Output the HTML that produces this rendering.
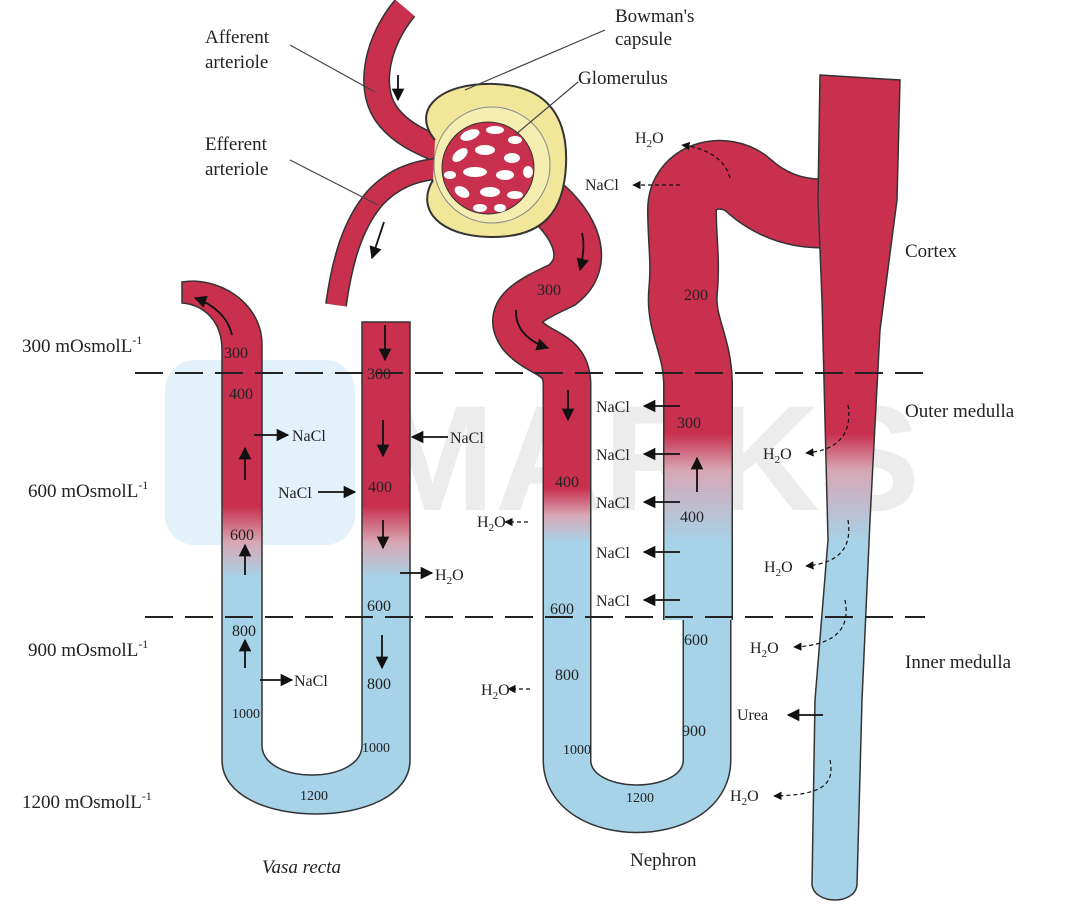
<!DOCTYPE html>
<html><head><meta charset="utf-8"><style>
html,body{margin:0;padding:0;background:#fff}
svg{display:block}
text{font-family:"Liberation Serif",serif;fill:#222}
</style></head><body>
<svg width="1088" height="904" viewBox="0 0 1088 904" xmlns="http://www.w3.org/2000/svg">
<defs>
<linearGradient id="g" gradientUnits="userSpaceOnUse" x1="0" y1="0" x2="0" y2="904">
<stop offset="0" stop-color="#c8304d"/>
<stop offset="0.56" stop-color="#c8304d"/>
<stop offset="0.6" stop-color="#d8a7b5"/>
<stop offset="0.64" stop-color="#a6d3e8"/>
<stop offset="1" stop-color="#a6d3e8"/>
</linearGradient>
<linearGradient id="g2" gradientUnits="userSpaceOnUse" x1="0" y1="0" x2="0" y2="904">
<stop offset="0" stop-color="#c8304d"/>
<stop offset="0.54" stop-color="#c8304d"/>
<stop offset="0.57" stop-color="#d8a7b5"/>
<stop offset="0.6" stop-color="#a6d3e8"/>
<stop offset="1" stop-color="#a6d3e8"/>
</linearGradient>
<linearGradient id="g3" gradientUnits="userSpaceOnUse" x1="0" y1="0" x2="0" y2="904">
<stop offset="0" stop-color="#c8304d"/>
<stop offset="0.48" stop-color="#c8304d"/>
<stop offset="0.52" stop-color="#d8a7b5"/>
<stop offset="0.6" stop-color="#a6d3e8"/>
<stop offset="1" stop-color="#a6d3e8"/>
</linearGradient>
<marker id="a" viewBox="0 0 10 10" refX="9" refY="5" markerWidth="7" markerHeight="7" orient="auto"><path d="M0,0 L10,5 L0,10 Z" fill="#111"/></marker>
</defs>

<!-- watermark -->
<rect x="165" y="360" width="190" height="185" rx="30" fill="#e3f1fb"/>
<text x="370" y="510" style="font-family:'Liberation Sans',sans-serif;font-size:150px;font-weight:bold;fill:#ececec">MARKS</text>

<!-- vasa recta -->
<path d="M182,282 C215,276 262,300 262,345 L262,745 C262,785 362,785 362,745 L362,322 L410,322 L410,760 C410,832 222,832 222,760 L222,350 C222,322 205,305 182,303 Z" fill="url(#g)" stroke="#333" stroke-width="1.5"/>

<!-- afferent / efferent -->
<path d="M405,8 C378,40 368,85 385,112 C398,132 420,142 445,152" fill="none" stroke="#333" stroke-width="27"/>
<path d="M405,8 C378,40 368,85 385,112 C398,132 420,142 445,152" fill="none" stroke="#c8304d" stroke-width="24"/>
<path d="M445,168 C410,170 390,182 375,198 C352,225 342,262 336,305" fill="none" stroke="#333" stroke-width="22"/>
<path d="M445,168 C410,170 390,182 375,198 C352,225 342,262 336,305" fill="none" stroke="#c8304d" stroke-width="19"/>

<!-- nephron tubes -->
<path d="M545,200 C575,225 592,262 562,285 C530,300 505,312 522,335 C540,356 567,352 567,385 L567,760 C567,825 707,825 707,760 L707,600" fill="none" stroke="#333" stroke-width="49"/>
<path d="M545,200 C575,225 592,262 562,285 C530,300 505,312 522,335 C540,356 567,352 567,385 L567,760 C567,825 707,825 707,760 L707,600" fill="none" stroke="url(#g2)" stroke-width="46"/>
<path d="M698,620 L698,385 C698,345 680,325 683,292 C686,262 682,240 682,210 C682,175 725,165 748,185 C770,205 800,218 840,212" fill="none" stroke="#333" stroke-width="70"/>
<path d="M698,620 L698,385 C698,345 680,325 683,292 C686,262 682,240 682,210 C682,175 725,165 748,185 C770,205 800,218 840,212" fill="none" stroke="url(#g3)" stroke-width="67"/>
<!-- collecting duct -->
<path d="M820,75 L900,80 L897,200 L880,330 L870,520 L862,700 L857,885 C855,905 815,905 812,885 L815,700 L828,540 L822,300 L818,200 Z" fill="url(#g3)" stroke="#333" stroke-width="1.5"/>

<!-- capsule -->
<path d="M435,140 C410,110 440,82 495,84 C550,86 568,120 566,165 C564,210 545,238 490,237 C440,236 415,210 433,180" fill="#f1e69a" stroke="#333" stroke-width="2"/>
<ellipse cx="492" cy="165" rx="58" ry="58" fill="#f5eeb0" stroke="#888" stroke-width="1"/>
<circle cx="488" cy="168" r="46" fill="#c8304d" stroke="#333" stroke-width="1"/>
<g fill="#fff">
<ellipse cx="470" cy="135" rx="10" ry="5" transform="rotate(-20 470 135)"/>
<ellipse cx="495" cy="130" rx="9" ry="4"/>
<ellipse cx="515" cy="140" rx="7" ry="4"/>
<ellipse cx="460" cy="155" rx="9" ry="5" transform="rotate(-40 460 155)"/>
<ellipse cx="485" cy="150" rx="10" ry="5"/>
<ellipse cx="512" cy="158" rx="8" ry="5"/>
<ellipse cx="450" cy="175" rx="6" ry="4"/>
<ellipse cx="475" cy="172" rx="12" ry="5"/>
<ellipse cx="505" cy="175" rx="9" ry="5"/>
<ellipse cx="528" cy="172" rx="5" ry="6"/>
<ellipse cx="462" cy="192" rx="8" ry="5" transform="rotate(30 462 192)"/>
<ellipse cx="490" cy="192" rx="10" ry="5"/>
<ellipse cx="515" cy="195" rx="8" ry="4"/>
<ellipse cx="480" cy="208" rx="7" ry="4"/>
<ellipse cx="500" cy="208" rx="6" ry="4"/>
</g>

<!-- dashed lines -->
<line x1="135" y1="373" x2="930" y2="373" stroke="#222" stroke-width="2" stroke-dasharray="28,12"/>
<line x1="145" y1="617" x2="925" y2="617" stroke="#222" stroke-width="2" stroke-dasharray="28,12"/>

<!-- leader lines -->
<g stroke="#444" stroke-width="1.2" fill="none">
<line x1="290" y1="45" x2="375" y2="92"/>
<line x1="290" y1="160" x2="378" y2="205"/>
<line x1="605" y1="30" x2="465" y2="90"/>
<line x1="578" y1="82" x2="515" y2="135"/>
</g>

<!-- internal arrows -->
<g stroke="#111" stroke-width="1.8" fill="none" marker-end="url(#a)">
<line x1="398" y1="75" x2="398" y2="100"/>
<line x1="384" y1="222" x2="372" y2="258"/>
<path d="M582,233 C585,245 583,258 580,270"/>
<path d="M516,310 C515,330 530,342 548,348"/>
<path d="M232,335 C228,318 215,305 195,298"/>
<line x1="245" y1="480" x2="245" y2="448"/>
<line x1="245" y1="575" x2="245" y2="545"/>
<line x1="245" y1="668" x2="245" y2="640"/>
<line x1="385" y1="325" x2="385" y2="360"/>
<line x1="383" y1="420" x2="383" y2="456"/>
<line x1="383" y1="520" x2="383" y2="548"/>
<line x1="382" y1="635" x2="382" y2="668"/>
<line x1="568" y1="390" x2="568" y2="420"/>
<line x1="697" y1="492" x2="697" y2="458"/>
<line x1="254" y1="435" x2="288" y2="435"/>
<line x1="318" y1="492" x2="355" y2="492"/>
<line x1="448" y1="437" x2="412" y2="437"/>
<line x1="400" y1="573" x2="432" y2="573"/>
<line x1="260" y1="680" x2="292" y2="680"/>
<line x1="680" y1="406" x2="644" y2="406"/>
<line x1="680" y1="454" x2="644" y2="454"/>
<line x1="680" y1="502" x2="644" y2="502"/>
<line x1="680" y1="552" x2="644" y2="552"/>
<line x1="680" y1="600" x2="644" y2="600"/>
<line x1="823" y1="715" x2="788" y2="715"/>
</g>
<g stroke="#111" stroke-width="1.2" fill="none" stroke-dasharray="4,3" marker-end="url(#a)">
<path d="M730,178 C725,158 705,148 682,145"/>
<line x1="680" y1="185" x2="633" y2="185"/>
<line x1="528" y1="522" x2="505" y2="522"/>
<line x1="530" y1="689" x2="508" y2="689"/>
<path d="M848,405 C852,430 842,450 806,453"/>
<path d="M848,520 C852,545 842,563 806,566"/>
<path d="M845,600 C850,625 840,645 794,647"/>
<path d="M830,760 C835,785 822,795 774,796"/>
</g>

<!-- labels -->
<g font-size="19">
<text x="205" y="43">Afferent</text><text x="205" y="68">arteriole</text>
<text x="205" y="150">Efferent</text><text x="205" y="175">arteriole</text>
<text x="615" y="22">Bowman's</text><text x="615" y="45">capsule</text>
<text x="578" y="84">Glomerulus</text>
<text x="905" y="257">Cortex</text>
<text x="905" y="417">Outer medulla</text>
<text x="905" y="668">Inner medulla</text>
<text x="22" y="352">300 mOsmolL<tspan font-size="12" dy="-8">-1</tspan></text>
<text x="28" y="497">600 mOsmolL<tspan font-size="12" dy="-8">-1</tspan></text>
<text x="28" y="656">900 mOsmolL<tspan font-size="12" dy="-8">-1</tspan></text>
<text x="22" y="808">1200 mOsmolL<tspan font-size="12" dy="-8">-1</tspan></text>
<text x="262" y="873" font-style="italic">Vasa recta</text>
<text x="630" y="866">Nephron</text>
</g>
<g font-size="16">
<text x="635" y="143">H<tspan font-size="11" dy="4">2</tspan><tspan dy="-4">O</tspan></text>
<text x="585" y="190">NaCl</text>
<text x="292" y="441">NaCl</text>
<text x="278" y="498">NaCl</text>
<text x="450" y="443">NaCl</text>
<text x="435" y="580">H<tspan font-size="11" dy="4">2</tspan><tspan dy="-4">O</tspan></text>
<text x="294" y="686">NaCl</text>
<text x="596" y="412">NaCl</text><text x="596" y="460">NaCl</text><text x="596" y="508">NaCl</text><text x="596" y="558">NaCl</text><text x="596" y="606">NaCl</text>
<text x="477" y="527">H<tspan font-size="11" dy="4">2</tspan><tspan dy="-4">O</tspan></text>
<text x="481" y="695">H<tspan font-size="11" dy="4">2</tspan><tspan dy="-4">O</tspan></text>
<text x="763" y="459">H<tspan font-size="11" dy="4">2</tspan><tspan dy="-4">O</tspan></text>
<text x="764" y="572">H<tspan font-size="11" dy="4">2</tspan><tspan dy="-4">O</tspan></text>
<text x="750" y="653">H<tspan font-size="11" dy="4">2</tspan><tspan dy="-4">O</tspan></text>
<text x="737" y="720">Urea</text>
<text x="730" y="801">H<tspan font-size="11" dy="4">2</tspan><tspan dy="-4">O</tspan></text>
<text x="224" y="358">300</text><text x="229" y="399">400</text><text x="230" y="540">600</text><text x="232" y="636">800</text>
<text x="367" y="379">300</text><text x="368" y="492">400</text><text x="367" y="611">600</text><text x="367" y="689">800</text>
<text x="537" y="295">300</text><text x="555" y="487">400</text><text x="550" y="614">600</text><text x="555" y="680">800</text>
<text x="684" y="300">200</text><text x="677" y="428">300</text><text x="680" y="522">400</text><text x="684" y="645">600</text><text x="682" y="736">900</text>
</g>
<g font-size="14">
<text x="232" y="718">1000</text><text x="362" y="752">1000</text><text x="300" y="800">1200</text>
<text x="563" y="754">1000</text><text x="626" y="802">1200</text>
</g>
</svg>
</body></html>
